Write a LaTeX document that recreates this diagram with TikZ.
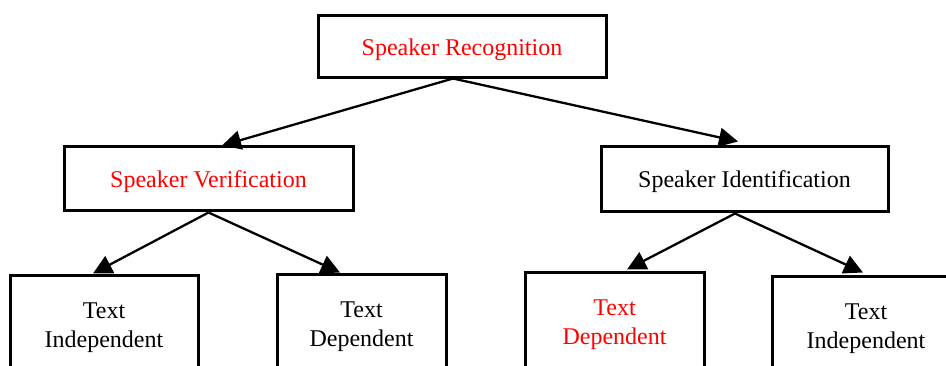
\documentclass[tikz,border=0pt]{standalone}
\usepackage{fontspec}
\setmainfont{Liberation Serif}
\usetikzlibrary{arrows.meta}
\begin{document}
\begin{tikzpicture}[x=1pt,y=-1pt,
  box/.style={draw, line width=3pt, rectangle, inner sep=0pt, font=\fontsize{24}{29}\selectfont},
  mid/.style={box, text height=18pt, text depth=0pt},
  leaf/.style={box, align=center, minimum height=106pt},
  conn/.style={line width=2.3pt, -{Triangle[length=19pt,width=19pt]}},
  hot/.style={text=red}]
\useasboundingbox (0,0) rectangle (946,365);
\clip (0,0) rectangle (946,365);
\fill[white] (0,0) rectangle (946,365);
\node[mid, hot, minimum width=288pt, minimum height=62pt] (top) at (462,46) {Speaker Recognition};
\node[mid, hot, minimum width=289pt, minimum height=64pt] (ver) at (208.5,178) {Speaker Verification};
\node[mid, minimum width=287pt, minimum height=65pt] (idf) at (744.5,178.5) {Speaker Identification};
\node[leaf, minimum width=188pt] (l1) at (104,328) {Text\\Independent};
\node[leaf, minimum width=169pt] (l2) at (361.5,327) {Text\\Dependent};
\node[leaf, hot, minimum width=179pt] (l3) at (614.5,325) {Text\\Dependent};
\node[leaf, minimum width=188pt] (l4) at (866,329) {Text\\Independent};
\coordinate (ts) at ([xshift=-9pt]top.south);
\draw[conn] (ts) -- ([xshift=13.5pt,yshift=-1pt]ver.north);
\draw[conn] (ts) -- ([xshift=-6.5pt,yshift=3pt]idf.north);
\draw[conn] ([yshift=-1pt]ver.south) -- ([xshift=-11pt]l1.north);
\draw[conn] ([yshift=-1pt]ver.south) -- ([xshift=-21.5pt]l2.north);
\draw[conn] ([xshift=-9.5pt,yshift=-1pt]idf.south) -- ([xshift=12.5pt,yshift=1pt]l3.north);
\draw[conn] ([xshift=-9.5pt,yshift=-1pt]idf.south) -- ([xshift=-3pt,yshift=2pt]l4.north);
\end{tikzpicture}
\end{document}
